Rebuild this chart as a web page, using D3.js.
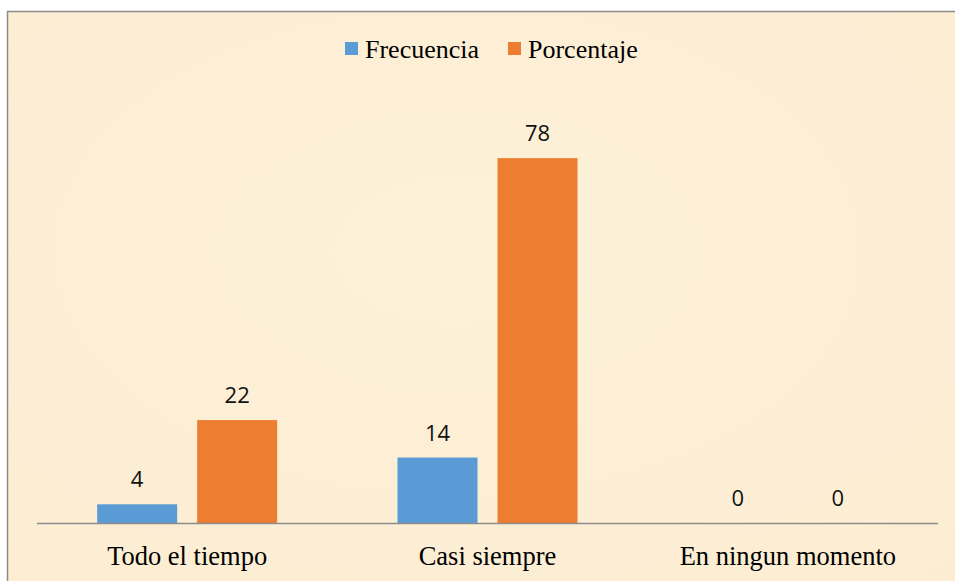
<!DOCTYPE html>
<html>
<head>
<meta charset="utf-8">
<script src="https://cdn.jsdelivr.net/npm/d3@7/dist/d3.min.js"></script>
<style>
body{margin:0;background:#fff;}
</style>
</head>
<body>
<div id="content"></div>
<script>
// data
var categories = ["Todo el tiempo", "Casi siempre", "En ningun momento"];
var series = ["Frecuencia", "Porcentaje"];
var frecuencia = [4, 14, 0];
var porcentaje = [22, 78, 0];
var colors = ["#5b9bd5", "#ed7d31"];

var width = 955, height = 581;
var plotLeft = 37, plotRight = 938, baseY = 523, plotTop = 102;

var svg = d3.select("#content").append("svg")
  .attr("width", width)
  .attr("height", height);

// background + frame
var defs = svg.append("defs");
var grad = defs.append("radialGradient").attr("id", "bg").attr("cx", "45%").attr("cy", "40%").attr("r", "75%");
grad.append("stop").attr("offset", "0%").attr("stop-color", "#fdf1d9");
grad.append("stop").attr("offset", "100%").attr("stop-color", "#fcedd2");
svg.append("rect")
  .attr("x", 7.5).attr("y", 11.5)
  .attr("width", 1000).attr("height", 600)
  .attr("fill", "url(#bg)")
  .attr("stroke", "#8c8c8c").attr("stroke-width", 1.5);

var x0 = d3.scaleBand().domain(categories).range([plotLeft, plotRight]).paddingInner(0).paddingOuter(0);
var x1 = d3.scaleBand().domain(series).range([x0.bandwidth()/2 - 90, x0.bandwidth()/2 + 90]).paddingInner(0.2).paddingOuter(0);
var y = d3.scaleLinear().domain([0, 90]).range([baseY, plotTop]);

var rows = categories.map(function(c, i){
  return {cat: c, vals: [frecuencia[i], porcentaje[i]]};
});

var groups = svg.selectAll(".grp")
  .data(rows)
  .enter().append("g")
  .attr("transform", function(d){ return "translate(" + x0(d.cat) + ",0)"; });

groups.selectAll("rect")
  .data(function(d){ return d.vals.map(function(v, j){ return {s: series[j], v: v, j: j}; }); })
  .enter().append("rect")
  .attr("x", function(d){ return x1(d.s); })
  .attr("y", function(d){ return y(d.v); })
  .attr("width", x1.bandwidth())
  .attr("height", function(d){ return baseY - y(d.v); })
  .attr("fill", function(d){ return colors[d.j]; });

groups.selectAll(".lbl")
  .data(function(d){ return d.vals.map(function(v, j){ return {s: series[j], v: v}; }); })
  .enter().append("text")
  .attr("x", function(d){ return x1(d.s) + x1.bandwidth()/2; })
  .attr("y", function(d){ return y(d.v) - 17; })
  .attr("text-anchor", "middle")
  .attr("font-family", "'Open Sans', sans-serif")
  .attr("font-size", 22)
  .attr("fill", "#111")
  .text(function(d){ return d.v; });

// baseline
svg.append("line")
  .attr("x1", plotLeft).attr("x2", plotRight)
  .attr("y1", baseY + 0.5).attr("y2", baseY + 0.5)
  .attr("stroke", "#8c8c8c").attr("stroke-width", 1.5);

// category labels
svg.selectAll(".cat")
  .data(categories)
  .enter().append("text")
  .attr("x", function(d){ return x0(d) + x0.bandwidth()/2; })
  .attr("y", 565)
  .attr("text-anchor", "middle")
  .attr("font-family", "'Liberation Serif', 'Times New Roman', serif")
  .attr("font-size", 26.5)
  .attr("fill", "#000")
  .text(function(d){ return d; });

// legend
var legX = [345, 508];
var leg = svg.selectAll(".leg")
  .data(series)
  .enter().append("g")
  .attr("transform", function(d, i){ return "translate(" + legX[i] + ",0)"; });
leg.append("rect")
  .attr("x", 0).attr("y", 42)
  .attr("width", 13).attr("height", 13)
  .attr("fill", function(d, i){ return colors[i]; });
leg.append("text")
  .attr("x", 20).attr("y", 58)
  .attr("font-family", "'Liberation Serif', 'Times New Roman', serif")
  .attr("font-size", 26)
  .attr("fill", "#000")
  .text(function(d){ return d; });
</script>
</body>
</html>
